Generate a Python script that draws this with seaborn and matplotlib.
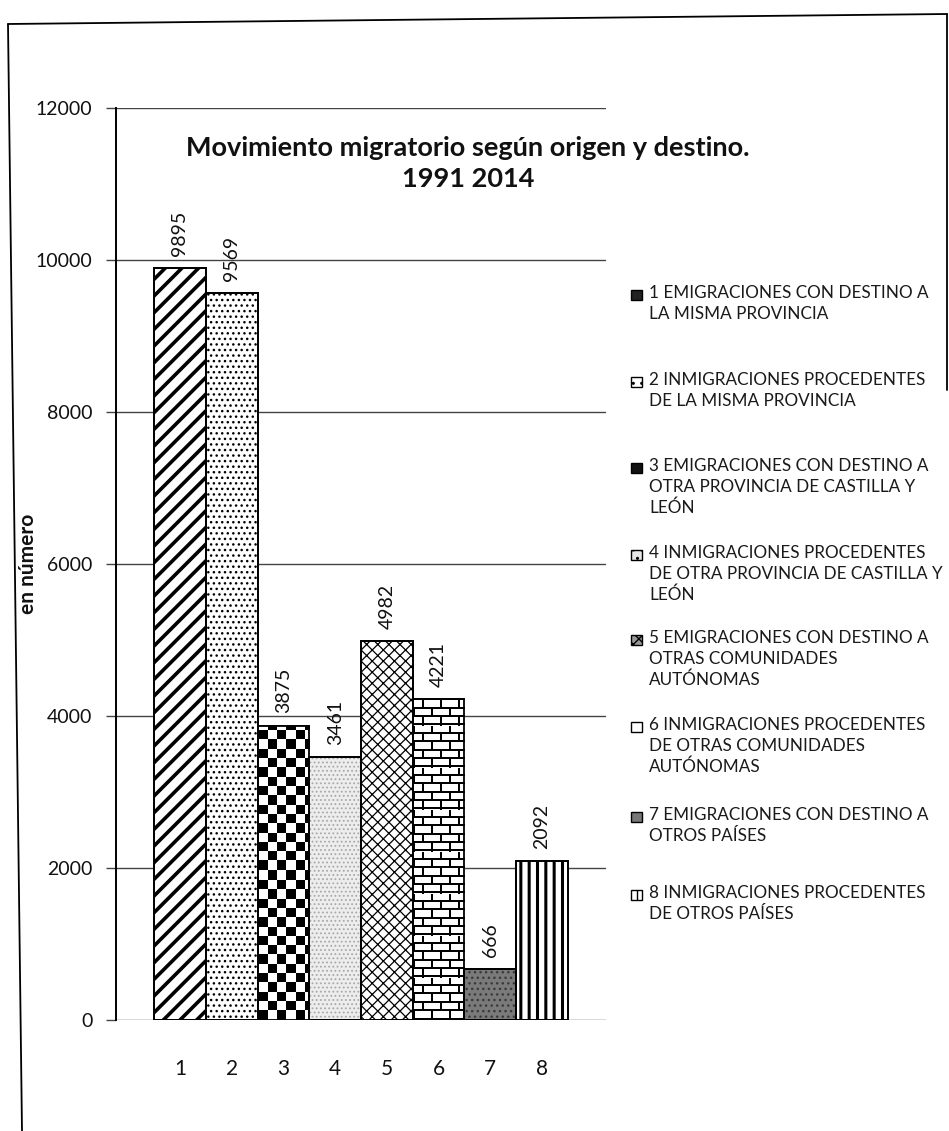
import matplotlib
matplotlib.use("Agg")
import numpy as np
import matplotlib.pyplot as plt
import seaborn as sns
import pandas as pd
from matplotlib.patches import Rectangle
from matplotlib.lines import Line2D
import matplotlib.colors as mcolors

categories = ["1", "2", "3", "4", "5", "6", "7", "8"]
values = [9895, 9569, 3875, 3461, 4982, 4221, 666, 2092]
legend_labels = [
    "1 EMIGRACIONES CON DESTINO A\nLA MISMA PROVINCIA",
    "2 INMIGRACIONES PROCEDENTES\nDE LA MISMA PROVINCIA",
    "3 EMIGRACIONES CON DESTINO A\nOTRA PROVINCIA DE CASTILLA Y\nLEÓN",
    "4 INMIGRACIONES PROCEDENTES\nDE OTRA PROVINCIA DE CASTILLA Y\nLEÓN",
    "5 EMIGRACIONES CON DESTINO A\nOTRAS COMUNIDADES\nAUTÓNOMAS",
    "6 INMIGRACIONES PROCEDENTES\nDE OTRAS COMUNIDADES\nAUTÓNOMAS",
    "7 EMIGRACIONES CON DESTINO A\nOTROS PAÍSES",
    "8 INMIGRACIONES PROCEDENTES\nDE OTROS PAÍSES",
]
yticks = [0, 2000, 4000, 6000, 8000, 10000, 12000]
title = "Movimiento migratorio según origen y destino.\n1991 2014"
ylabel = "en número"

# styles
hatches = ["//", "...", "", "....", "xxx", "", "...", "||"]
faces = ["white", "white", "white", "#ededed", "white", "white", "#7a7a7a", "white"]
hatch_colors = ["black", "black", "black", "#a8a8a8", "black", "black", "#3a3a3a", "black"]
hatch_lw = [2.6, 1.0, 1.0, 0.8, 0.9, 1.0, 1.0, 2.2]
textures = [None, None, "checker", None, None, "brick", None, None]
leg_faces = ["#222222", "white", "#111111", "#e6e6e6", "#999999", "white", "#777777", "white"]
leg_hatch = ["", "..", "", "..", "xxx", "", "", "||"]

W, H = 949, 1131
def fx(px):
    return px / W
def fy(py):
    return 1 - py / H

sns.set_theme(style="white")
plt.rcParams["font.family"] = ["Lato", "DejaVu Sans"]

fig = plt.figure(figsize=(W / 100, H / 100), dpi=100)
ax_left, ax_right, ax_top, ax_bot = 116, 606, 108, 1020
ax = fig.add_axes([fx(ax_left), fy(ax_bot), (ax_right - ax_left) / W, (ax_bot - ax_top) / H])

df = pd.DataFrame({"cat": categories, "val": values})
sns.barplot(data=df, x="cat", y="val", ax=ax, width=1.0, color="white",
            edgecolor="black", linewidth=1.3, zorder=3)

ax.set_xlim(-0.5 - 0.735, 7.5 + 0.735)
ax.set_ylim(0, 12000)

def set_hatch_props(p, color, lw):
    try:
        p.set_hatchcolor(color)
    except Exception:
        p._hatch_color = mcolors.to_rgba(color)
    try:
        p.set_hatch_linewidth(lw)
    except Exception:
        p._hatch_linewidth = lw

fig.canvas.draw()
px_per_unit_x = (ax_right - ax_left) / (ax.get_xlim()[1] - ax.get_xlim()[0])
px_per_unit_y = (ax_bot - ax_top) / 12000.0

for i, p in enumerate(ax.patches):
    p.set_facecolor(faces[i])
    p.set_edgecolor("black")
    p.set_hatch(hatches[i] if hatches[i] else None)
    set_hatch_props(p, hatch_colors[i], hatch_lw[i])
    x0, w, h = p.get_x(), p.get_width(), p.get_height()
    if textures[i] is not None:
        wpx = int(round(w * px_per_unit_x))
        hpx = int(round(h * px_per_unit_y))
        yy, xx = np.mgrid[0:hpx, 0:wpx]
        if textures[i] == "checker":
            cell = 9.3
            img = ((np.floor(xx / cell) + np.floor(yy / cell)) % 2 == 0).astype(float)
            img = 1 - img
        else:
            bh, bw = 8.4, 18.0
            row = np.floor(yy / bh)
            off = (row % 2) * (bw / 2)
            mortar_h = (yy % bh) < 2.0
            mortar_v = ((xx + off) % bw) < 2.0
            img = np.where(mortar_h | mortar_v, 0.0, 1.0)
        im = ax.imshow(img, cmap="gray", vmin=0, vmax=1, extent=[x0, x0 + w, 0, h],
                       origin="lower", interpolation="nearest", aspect="auto", zorder=3.5)
        im.set_clip_path(p)
    ax.text(x0 + w / 2, h + 160, str(values[i]), rotation=90, ha="center",
            va="bottom", fontsize=14, color="#111111", zorder=5)
    ax.add_patch(Rectangle((x0, 0), w, h, fill=False, edgecolor="black",
                           linewidth=1.3, zorder=4))

ax.set_xlim(-0.5 - 0.735, 7.5 + 0.735)
ax.set_ylim(0, 12000)
ax.set_yticks(yticks)
ax.set_yticklabels([str(t) for t in yticks], fontsize=14, color="#111111")
ax.tick_params(axis="y", left=True, length=7, width=1.0, color="#444444", pad=10)
ax.tick_params(axis="x", bottom=False, labelsize=15, pad=22, labelcolor="#111111")
ax.set_xlabel("")
ax.set_ylabel(ylabel, fontsize=15, fontweight="bold", color="#111111")
ax.yaxis.set_label_coords((38 - ax_left) / (ax_right - ax_left), 0.5)
ax.grid(axis="y", color="#444444", linewidth=1.0, zorder=0)
ax.set_axisbelow(True)
for s in ["top", "right", "bottom"]:
    ax.spines[s].set_visible(False)
ax.spines["left"].set_color("black")
ax.spines["left"].set_linewidth(1.4)

fig.text(fx(468), fy(163), title, ha="center", va="center", fontsize=19.5,
         fontweight="bold", linespacing=1.35, color="#111111")

# legend (manual, uniform spacing like the reference)
renderer = fig.canvas.get_renderer()
probe = fig.text(0, 0, "1 EMIGRACIONES CON DESTINO A", fontsize=14)
wpx = probe.get_window_extent(renderer).width
probe.remove()
leg_fs = 14 * 278.0 / wpx
leg_y = [295, 382, 468, 555, 640, 727, 817, 895]
for i, lab in enumerate(legend_labels):
    y = leg_y[i]
    fig.add_artist(Rectangle((fx(631), fy(y + 5)), 11 / W, 10 / H, transform=fig.transFigure,
                             facecolor=leg_faces[i], edgecolor="black", linewidth=1.0,
                             hatch=leg_hatch[i] if leg_hatch[i] else None))
    fig.text(fx(649), fy(y - 10), lab, ha="left", va="top", fontsize=leg_fs,
             color="#1a1a1a", linespacing=1.35)

# scanned page frame
fig.add_artist(Line2D([fx(8), fx(22)], [fy(24), fy(1131)], transform=fig.transFigure,
                      color="black", linewidth=1.3))
fig.add_artist(Line2D([fx(8), fx(947)], [fy(24), fy(14)], transform=fig.transFigure,
                      color="black", linewidth=1.3))
fig.add_artist(Line2D([fx(947), fx(947)], [fy(14), fy(390)], transform=fig.transFigure,
                      color="black", linewidth=1.3))

fig.savefig("out.png", dpi=100)
